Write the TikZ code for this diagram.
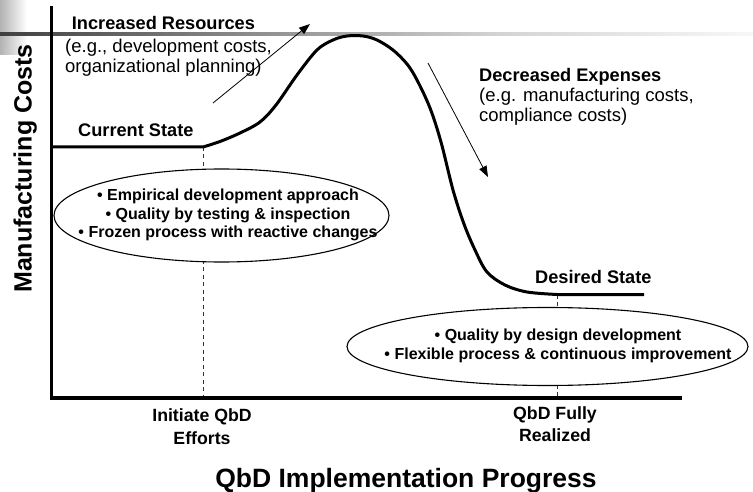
\documentclass[tikz,border=0pt]{standalone}
\usepackage{fontspec}
\setmainfont{Liberation Sans}
\usetikzlibrary{shapes.geometric,arrows.meta}

\tikzset{
  axisline/.style={line width=3.3pt, line cap=rect},
  costcurve/.style={line width=3pt, line join=round},
  guide/.style={line width=0.7pt, black!80, dash pattern=on 4pt off 3.5pt},
  trendarrow/.style={line width=0.8pt, -{Triangle[length=11pt,width=8pt]}},
  bubble/.style={ellipse, draw, line width=1.1pt, fill=white, inner sep=0pt},
  heading/.style={font=\fontsize{18.2}{20}\selectfont\bfseries, inner sep=0pt},
  note/.style={font=\fontsize{18.5}{20}\selectfont, inner sep=0pt, align=left},
  bullets/.style={font=\fontsize{16}{18.6}\selectfont\bfseries, inner sep=0pt, align=center},
  milestone/.style={font=\fontsize{17.7}{22.3}\selectfont\bfseries, inner sep=0pt, align=center},
  axistitle/.style={font=\fontsize{26.5}{28}\selectfont\bfseries, inner sep=0pt}
}

\begin{document}
\begin{tikzpicture}[x=1pt,y=-1pt]
\useasboundingbox (0,0) rectangle (753,492);

% header decoration: grey block and fading rule
\shade[left color=black!30, right color=white] (0,0) rectangle (27,55);
\shade[left color=black!75, right color=black!45] (0,32.4) rectangle (250,36);
\shade[left color=black!45, right color=black!17] (249.5,32.4) rectangle (500,36);
\shade[left color=black!17, right color=black!3] (499.5,32.4) rectangle (753,36);

% key points
\coordinate (origin) at (51.5,398);
\coordinate (ytop) at (51.5,8);
\coordinate (xend) at (680,398);
\coordinate (start) at (51.5,147);
\coordinate (initiate) at (203,147);
\coordinate (initiateaxis) at (203,398);
\coordinate (realized) at (557,294.5);
\coordinate (realizedaxis) at (557,398);
\coordinate (finish) at (644,294.5);

% milestone guides
\draw[guide] (initiate) -- (initiateaxis);
\draw[guide] (realized) -- (realizedaxis);

% axes
\draw[axisline] (ytop) -- (origin) -- (xend);

% cost curve
\draw[costcurve] (start) -- (initiate)
  plot[smooth, tension=0.55] coordinates {
    (203,147) (220,141.5) (240,133) (260,122) (276,105) (297,75) (317,50)
    (333,40) (347,36) (363,36) (377,40) (393,50) (407,64) (417,80)
    (430,108) (441,142) (453,190) (464,224) (475,250) (487,272)
    (505,285) (527,292) (557,294.5)}
  -- (finish);

% bubbles (multi-line text is placed by the baseline of its last line)
\node[bubble, minimum width=335pt, minimum height=93pt] (nowbubble) at (221.5,215.5) {};
\node[bullets, anchor=base] (nowtext) at (228,237.8)
  {• Empirical development approach\\• Quality by testing \& inspection\\• Frozen process with reactive changes};
\node[bubble, minimum width=401pt, minimum height=78pt] (qbdbubble) at (547.5,346.5) {};
\node[bullets, anchor=base] (qbdtext) at (558,359.3)
  {• Quality by design development\\• Flexible process \& continuous improvement};

% trend arrows
\coordinate (upfrom) at (213,103);
\coordinate (upto) at (310,24);
\coordinate (downfrom) at (428,63);
\coordinate (downto) at (488,177);
\draw[trendarrow] (upfrom) -- (upto);
\draw[trendarrow] (downfrom) -- (downto);

% labels
\node[heading, anchor=base west] (incr) at (71.7,29.3) {Increased Resources};
\node[note, anchor=base west] (incrnote) at (65,72.7) {(e.g., development costs,\\organizational planning)};
\node[heading, anchor=base west] (decr) at (479,81.7) {Decreased Expenses};
\node[note, anchor=base west] (decrnote) at (479,121.3) {(e.g. manufacturing costs,\\compliance costs)};
\node[heading, anchor=base west] (current) at (78,137) {Current State};
\node[heading, anchor=base west] (desired) at (535,283) {Desired State};

\node[milestone, anchor=base] (initlabel) at (202,444) {Initiate QbD\\Efforts};
\node[milestone, anchor=base] (fulllabel) at (555,441.6) {QbD Fully\\Realized};

\node[axistitle, anchor=base] (xtitle) at (406,487.3) {QbD Implementation Progress};
\node[axistitle, anchor=base, rotate=90, font=\fontsize{25}{27}\selectfont\bfseries] (ytitle) at (31.5,168.5) {Manufacturing Costs};
\end{tikzpicture}
\end{document}
